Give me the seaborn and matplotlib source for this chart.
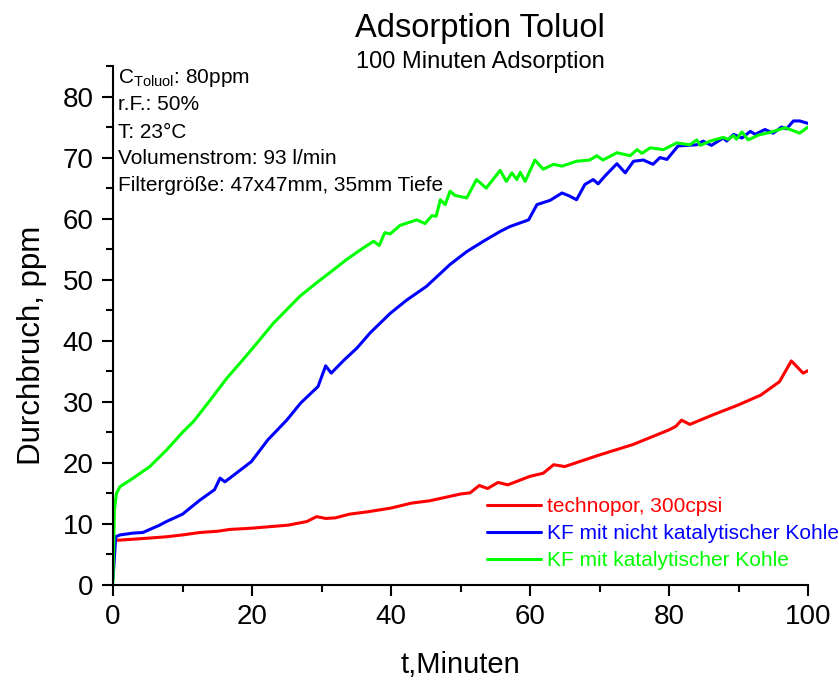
import matplotlib
matplotlib.use("Agg")
import matplotlib.pyplot as plt
import seaborn as sns
import pandas as pd

# Breakthrough curves (time in minutes, concentration in ppm)
t_technopor = [0, 0.3, 2.9, 4.8, 7.7, 10, 12.5, 15, 16.8, 19.9, 25.2, 27.9, 29.3, 30.6,
               32, 34, 36.7, 40, 42.9, 45.6, 50, 51.4, 52.7, 53.9, 55.4, 56.8, 60, 61.9,
               63.4, 65, 70, 74.8, 80, 81, 81.8, 83, 86.4, 90, 93.2, 95.9, 97.6, 99.3, 100]
v_technopor = [6.0, 7.3, 7.5, 7.65, 7.9, 8.2, 8.6, 8.8, 9.1, 9.3, 9.8, 10.4, 11.2, 10.9,
               11.0, 11.6, 12.0, 12.6, 13.4, 13.8, 14.9, 15.1, 16.3, 15.8, 16.8, 16.4, 17.8, 18.3,
               19.7, 19.4, 21.3, 23.0, 25.4, 26.0, 27.0, 26.3, 27.9, 29.5, 31.1, 33.3, 36.7, 34.7, 35.1]

t_kf_nicht = [0, 0.4, 1, 2.9, 4.3, 5.3, 6.7, 7.7, 10, 12.5, 14.6, 15.4, 16.1, 16.8, 19.9,
              22.3, 25, 27, 29.5, 30.6, 31.4, 33.3, 35.1, 37, 39.9, 42.3, 45.1, 48.5, 50.9,
              53.3, 55.7, 57.1, 59.8, 61, 62.9, 64.6, 65.5, 66.7, 67.9, 69.1, 69.8, 70.8, 72.5,
              73.7, 74.9, 76.3, 77.7, 78.7, 79.7, 81.3, 82.5, 84, 84.9, 86.1, 87.8, 88.3, 89.3,
              90.5, 91.7, 92.4, 93.8, 95, 96.2, 96.9, 97.9, 98.8, 100]
v_kf_nicht = [1.0, 7.9, 8.2, 8.5, 8.6, 9.1, 9.8, 10.4, 11.6, 13.9, 15.6, 17.5, 16.9, 17.5, 20.2,
              23.8, 27.0, 29.8, 32.5, 35.9, 34.7, 36.9, 38.8, 41.3, 44.5, 46.7, 48.9, 52.5, 54.6,
              56.3, 57.9, 58.7, 59.8, 62.3, 63.0, 64.2, 63.8, 63.1, 65.6, 66.4, 65.7, 67.0, 69.0,
              67.5, 69.4, 69.6, 68.9, 70.0, 69.7, 71.9, 72.0, 72.1, 72.7, 72.0, 73.2, 72.7, 73.8,
              73.2, 74.3, 73.8, 74.6, 74.0, 75.0, 74.7, 76.0, 76.0, 75.6]

t_kf_kat = [0, 0.2, 0.5, 1, 2.9, 5.3, 7.7, 10, 11.6, 14, 16.4, 18.7, 20.7, 23.1, 25, 26.9,
            29.3, 31.7, 33.6, 36, 37.5, 38.3, 39.1, 39.9, 41.3, 43.7, 44.9, 45.9, 46.5, 47.1,
            47.8, 48.5, 49.2, 50.9, 52.3, 53.7, 55.7, 56.6, 57.4, 58.1, 58.6, 59.3, 60.7, 61.9,
            63.4, 64.6, 66.7, 68.6, 69.6, 70.5, 72.5, 74.4, 75.4, 76.1, 77.3, 79.2, 81.1, 83,
            84, 84.5, 85.9, 87.8, 88.5, 89.3, 89.7, 90.5, 91.4, 92.9, 94.8, 96.7, 97.9, 98.8, 100]
v_kf_kat = [0.5, 12.3, 15.0, 16.1, 17.5, 19.4, 22.1, 25.0, 26.8, 30.3, 33.9, 36.9, 39.6, 42.9,
            45.1, 47.3, 49.5, 51.6, 53.3, 55.2, 56.3, 55.6, 57.7, 57.5, 58.9, 59.8, 59.2, 60.5,
            60.4, 63.1, 62.3, 64.5, 63.8, 63.4, 66.4, 65.0, 67.9, 66.1, 67.5, 66.4, 67.6, 66.1,
            69.6, 68.1, 68.9, 68.6, 69.4, 69.6, 70.3, 69.6, 70.8, 70.3, 71.3, 70.7, 71.6, 71.3,
            72.4, 72.1, 72.9, 72.0, 72.7, 73.3, 73.0, 73.6, 73.0, 74.2, 72.9, 73.7, 74.2, 74.9,
            74.4, 74.0, 75.0]

labels = ["technopor, 300cpsi", "KF mit nicht katalytischer Kohle", "KF mit katalytischer Kohle"]
colors = ["#FF0000", "#0000FF", "#00FF00"]

conditions = [r"C$_{\mathrm{Toluol}}$: 80ppm", "r.F.: 50%", "T: 23°C",
              "Volumenstrom: 93 l/min", "Filtergröße: 47x47mm, 35mm Tiefe"]

df = pd.concat([
    pd.DataFrame({"t": t_technopor, "ppm": v_technopor, "Probe": labels[0]}),
    pd.DataFrame({"t": t_kf_nicht, "ppm": v_kf_nicht, "Probe": labels[1]}),
    pd.DataFrame({"t": t_kf_kat, "ppm": v_kf_kat, "Probe": labels[2]}),
], ignore_index=True)

sns.set_style("ticks")
plt.rcParams["font.family"] = ["Liberation Sans", "DejaVu Sans"]
plt.rcParams["mathtext.fontset"] = "custom"
plt.rcParams["mathtext.rm"] = "Liberation Sans"
plt.rcParams["mathtext.it"] = "Liberation Sans:italic"
plt.rcParams["text.color"] = "black"
plt.rcParams["axes.labelcolor"] = "black"
plt.rcParams["xtick.color"] = "black"
plt.rcParams["ytick.color"] = "black"

fig = plt.figure(figsize=(8.39, 6.84), dpi=100)
ax = fig.add_axes([113 / 839, 1 - 585 / 684, (808 - 113) / 839, (585 - 66) / 684])

sns.lineplot(data=df, x="t", y="ppm", hue="Probe", palette=dict(zip(labels, colors)),
             hue_order=labels, sort=False, estimator=None, linewidth=2.2, legend=False, ax=ax)

ax.set_xlim(0, 100)
ax.set_ylim(0, 85)
ax.set_xticks(range(0, 101, 20))
ax.set_xticks(range(10, 100, 20), minor=True)
ax.set_yticks(range(0, 81, 10))
ax.set_yticks(range(5, 86, 10), minor=True)
ax.tick_params(axis="both", which="major", direction="out", length=8, width=1.5,
               labelsize=20, pad=6, color="black", labelcolor="black")
ax.tick_params(axis="both", which="minor", direction="out", length=5, width=1.5, color="black")
sns.despine(ax=ax)
for side in ("left", "bottom"):
    ax.spines[side].set_linewidth(1.5)
    ax.spines[side].set_color("black")

ax.set_xlabel("t,Minuten", fontsize=21, labelpad=15, color="black")
ax.set_ylabel("Durchbruch, ppm", fontsize=22.5, color="black", va="center")
ax.yaxis.set_label_coords(-0.1165, 0.462)

fig.text(480 / 839, 1 - 28 / 684, "Adsorption Toluol", fontsize=23.5, ha="center", va="center")
fig.text(480 / 839, 1 - 62 / 684, "100 Minuten Adsorption", fontsize=17, ha="center", va="center")

for i, line in enumerate(conditions):
    fig.text(118 / 839, 1 - (78 + 27 * i) / 684, line, fontsize=15, ha="left", va="center")

handles = [plt.Line2D([], [], color=c, linewidth=2.2) for c in colors]
fig.legend(handles, labels, loc="upper left", bbox_to_anchor=(487 / 839, 1 - 497 / 684),
           frameon=False, fontsize=15, handlelength=2.6, handletextpad=0.3,
           labelspacing=0.38, borderpad=0, borderaxespad=0, labelcolor="linecolor")

fig.savefig("out.png", dpi=100, facecolor="white")
